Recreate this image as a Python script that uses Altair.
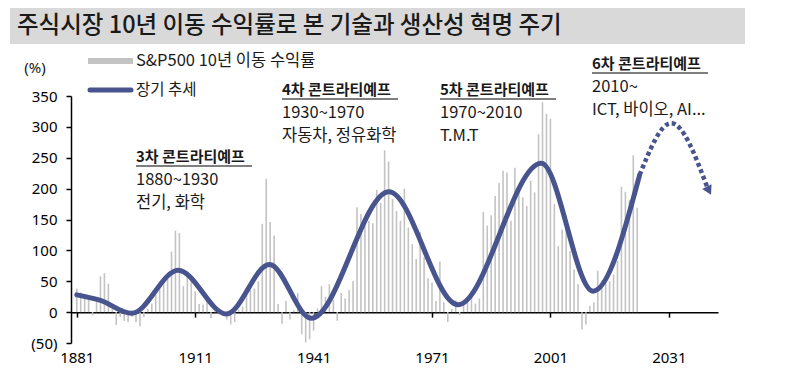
import altair as alt
import pandas as pd

# ---------------- data ----------------
years = list(range(1881, 2024))
returns = [
    38, 32, 28, 25, -5, 22, 58, 63, 46, 5,
    -21, -8, -14, -16, -8, -16, -23, -8, 5, 14,
    28, 43, 51, 57, 98, 132, 128, 42, 66, 51,
    34, 13, 12, 25, -10, 6, -4, -4, -12, -20,
    -16, 4, 9, 28, 36, 38, 50, 143, 216, 146,
    124, 13, -19, 18, -12, 3, 31, -36, -49, -44,
    -30, 6, 42, 25, 45, 20, -14, 31, 22, 36,
    50, 170, 159, 140, 148, 144, 198, 177, 262, 244,
    183, 164, 148, 200, 137, 110, 86, 130, 89, 55,
    48, 18, 82, 16, -16, 5, 19, -5, 16, 24,
    35, 14, 22, 162, 140, 157, 188, 209, 229, 226,
    148, 234, 203, 186, 172, 213, 194, 288, 340, 321,
    313, 175, 107, 134, 156, 99, 69, 45, -28, -20,
    10, 16, 67, 51, 56, 50, 61, 83, 203, 195,
    182, 254, 169,
]

trend_years = [1881, 1887, 1894.9, 1906.7, 1918.9, 1929.8, 1940.4, 1960.1, 1977.6, 1998.7, 2011.8, 2023.6]
trend_vals = [28, 19, -2, 68, -3, 77, -10, 195, 12, 241, 34, 222]

proj_years = [2023.6, 2031.6, 2040.7]
proj_vals = [222, 306, 203]

arrow_year = [2041.0]
arrow_val = [199]

x_ticks = [1881, 1911, 1941, 1971, 2001, 2031]
y_ticks = [-50, 0, 50, 100, 150, 200, 250, 300, 350]

title_text = "주식시장 10년 이동 수익률로 본 기술과 생산성 혁명 주기"
legend_bar = "S&P500 10년 이동 수익률"
legend_line = "장기 추세"
waves = [
    ("3차 콘트라티예프", "1880~1930", "전기, 화학"),
    ("4차 콘트라티예프", "1930~1970", "자동차, 정유화학"),
    ("5차 콘트라티예프", "1970~2010", "T.M.T"),
    ("6차 콘트라티예프", "2010~", "ICT, 바이오, AI..."),
]

# ---------------- styling ----------------
BLUE = "#47548E"
GRAY = "#C3C3C3"
TXT = "#1a1a1a"
KFONT = "Noto Sans CJK KR"
W, H = 647, 247

xs = alt.Scale(domain=[1880.8, 2042.2], nice=False, zero=False)
ys = alt.Scale(domain=[-50, 350], nice=False)

bars_df = pd.DataFrame({"year": years, "ret": returns})
trend_df = pd.DataFrame({"year": trend_years, "v": trend_vals})
proj_df = pd.DataFrame({"year": proj_years, "v": proj_vals})
arrow_df = pd.DataFrame({"year": arrow_year, "v": arrow_val})
one = pd.DataFrame({"k": [0]})

x_axis = alt.Axis(
    values=x_ticks, format="d", offset=-H * 50 / 400, domainColor="black", domainWidth=1.5,
    tickColor="black", tickSize=5, tickWidth=1.5, labelPadding=33, labelFontSize=15,
    labelFont="Noto Sans", labelColor="black", grid=False, title=None, labelFlush=False,
    labelOverlap=False,
)
y_axis = alt.Axis(
    values=y_ticks, domainColor="black", domainWidth=1.5, tickColor="black", tickSize=5,
    tickWidth=1.5, labelPadding=9, labelFontSize=15, labelFont="Noto Sans", labelColor="black",
    grid=False, title=None, labelOverlap=False, labelFlush=False,
    labelExpr="datum.value < 0 ? '(' + abs(datum.value) + ')' : '' + datum.value",
)

X = lambda f: alt.X(f, scale=xs, axis=x_axis)
Y = lambda f: alt.Y(f, scale=ys, axis=y_axis)

bars = alt.Chart(bars_df).mark_bar(size=1.6, color=GRAY).encode(
    x=X("year:Q"), y=Y("ret:Q"))

trend = alt.Chart(trend_df).mark_line(
    interpolate="monotone", color=BLUE, strokeWidth=5, strokeCap="round"
).encode(x=X("year:Q"), y=Y("v:Q"))

proj = alt.Chart(proj_df).mark_line(
    interpolate="monotone", color=BLUE, strokeWidth=4.5, strokeDash=[4, 3]
).encode(x=X("year:Q"), y=Y("v:Q"))

arrow = alt.Chart(arrow_df).mark_point(
    shape="triangle", angle=153, size=110, filled=True, color=BLUE, opacity=1
).encode(x=X("year:Q"), y=Y("v:Q"))


def txt(s, x, y, size=15, weight="normal", align="left", font=KFONT, color=TXT):
    return alt.Chart(one).mark_text(
        text=s, align=align, baseline="middle", fontSize=size, fontWeight=weight,
        font=font, color=color
    ).encode(x=alt.value(x), y=alt.value(y))


def rule(x1, x2, y, color="black", width=1, cap="butt"):
    return alt.Chart(one).mark_rule(color=color, strokeWidth=width, strokeCap=cap).encode(
        x=alt.value(x1), x2=alt.value(x2), y=alt.value(y)
    )


deco = []
# title bar
deco.append(alt.Chart(one).mark_rect(color="#D9D9D9").encode(
    x=alt.value(-61), x2=alt.value(674), y=alt.value(-88), y2=alt.value(-52)))
deco.append(txt(title_text, -54, -70, size=23.5, weight=500))
# unit
deco.append(txt("(%)", -36, -28, size=15, align="center", font="Noto Sans"))
# legend
deco.append(alt.Chart(one).mark_rect(color=GRAY).encode(
    x=alt.value(17), x2=alt.value(62), y=alt.value(-38), y2=alt.value(-32)))
deco.append(txt(legend_bar, 65, -35, size=16.5))
deco.append(rule(19, 60, -6, color=BLUE, width=5, cap="round"))
deco.append(txt(legend_line, 65, -6, size=15.5))

# annotations
pos = [(65, 61), (211, -6), (369, -6), (521, -32)]
for (h, l1, l2), (ax, ay) in zip(waves, pos):
    deco.append(txt(h, ax, ay, size=15, weight="bold"))
    deco.append(rule(ax, ax + 116, ay + 9, width=1.2))
    deco.append(txt(l1, ax, ay + 23, size=16.5))
    deco.append(txt(l2, ax, ay + 46, size=16.5))

chart = alt.layer(bars, trend, proj, arrow, *deco).properties(
    width=W, height=H,
    padding={"left": 63, "top": 88, "right": 60, "bottom": 27},
    autosize=alt.AutoSizeParams(type="none"),
).configure_view(stroke=None).configure_axis(labelOverlap=False)

chart.save("out.html", embed_options={"renderer": "svg", "actions": False})
